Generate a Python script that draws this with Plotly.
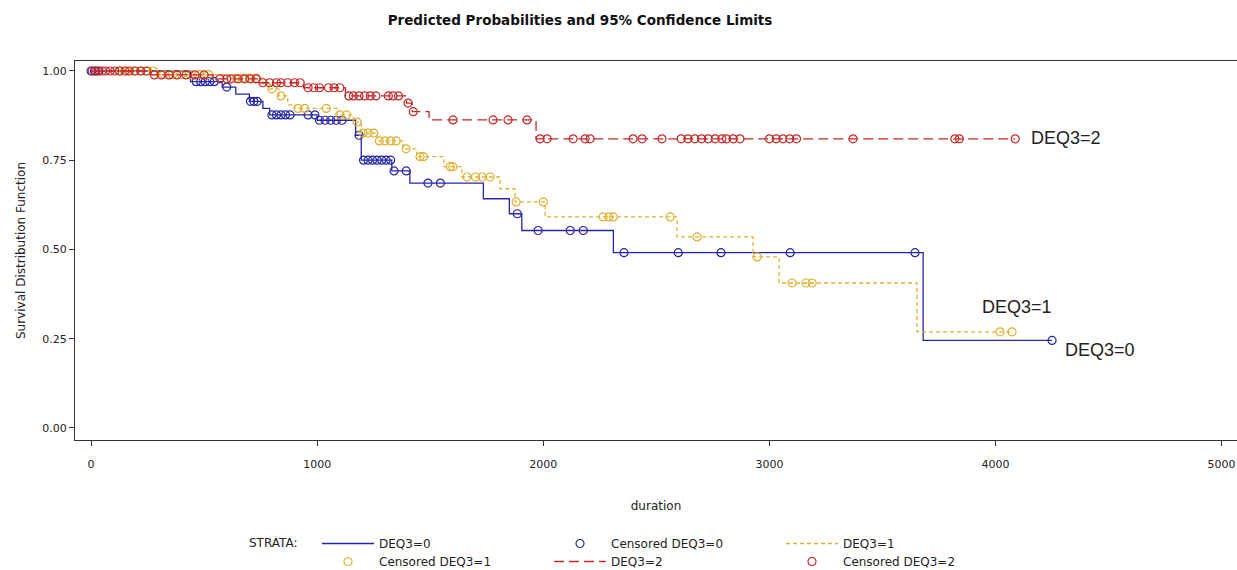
import numpy as np
import plotly.graph_objects as go

# ---------------- data ----------------
# DEQ3=0
t0_events = [440, 580, 640, 700, 760, 790, 1000, 1170, 1195, 1330, 1410, 1735, 1850, 1905, 2310, 3680]
s0_events = [0.970, 0.955, 0.935, 0.915, 0.895, 0.877, 0.862, 0.820, 0.750, 0.720, 0.686, 0.642, 0.600, 0.553, 0.491, 0.245]
t0_end = 4250
t0_cens = [0, 15, 30, 465, 485, 505, 525, 545, 600, 705, 720, 735, 800, 820, 840, 860, 880, 960, 990,
           1010, 1035, 1060, 1085, 1110, 1185, 1205, 1225, 1245, 1265, 1285, 1305, 1325, 1340, 1394,
           1490, 1545, 1885, 1977, 2119, 2177, 2357, 2597, 2786, 3092, 3644, 4250]

# DEQ3=1
t1_events = [290, 600, 760, 790, 830, 870, 900, 1090, 1160, 1195, 1265, 1380, 1440, 1560, 1640, 1809, 1875,
             2008, 2592, 2928, 3043, 3653]
s1_events = [0.990, 0.980, 0.965, 0.950, 0.930, 0.905, 0.895, 0.877, 0.857, 0.826, 0.804, 0.782, 0.760,
             0.732, 0.703, 0.670, 0.633, 0.591, 0.535, 0.479, 0.406, 0.269]
t1_end = 4073
t1_cens = [130, 160, 190, 220, 250, 275, 320, 360, 400, 440, 480, 520, 640, 670, 700, 730, 800, 840,
           915, 945, 1040, 1100, 1130, 1176, 1203, 1225, 1250, 1275, 1300, 1325, 1350, 1393, 1455, 1470,
           1588, 1600, 1663, 1700, 1730, 1765, 1880, 2000, 2265, 2290, 2310, 2561, 2680, 2946,
           3100, 3162, 3189, 4020, 4073]

# DEQ3=2
t2_events = [265, 540, 740, 940, 1125, 1395, 1420, 1495, 1968]
s2_events = [0.989, 0.978, 0.967, 0.953, 0.930, 0.910, 0.886, 0.863, 0.810]
t2_end = 4087
t2_cens = [5, 20, 35, 50, 65, 85, 105, 125, 150, 170, 195, 220, 245, 280, 310, 345, 380, 420, 460, 500,
           570, 600, 620, 650, 680, 705, 730, 760, 790, 820, 840, 870, 900, 925, 960, 985, 1010, 1050,
           1075, 1100, 1140, 1160, 1185, 1210, 1235, 1260, 1315, 1335, 1360, 1402, 1425, 1601, 1778,
           1844, 1928, 1986, 2017, 2132, 2185, 2207, 2397, 2437, 2525, 2610, 2640, 2670, 2700, 2730,
           2760, 2790, 2810, 2840, 2870, 3000, 3030, 3060, 3090, 3120, 3370, 3820, 3840, 4087]

groups = ["DEQ3=0", "DEQ3=1", "DEQ3=2"]
colors = ["#2626A6", "#E0B030", "#C42828"]
dashes = ["solid", "4px,3px", "10px,5px"]
x_ticks = [0, 1000, 2000, 3000, 4000, 5000]
y_ticks = [0.00, 0.25, 0.50, 0.75, 1.00]


def step_xy(ev_t, ev_s, end):
    x = [0] + list(ev_t) + [end]
    y = [1.0] + list(ev_s) + [ev_s[-1]]
    return x, y


def surv_at(ev_t, ev_s, t):
    ev_t = np.asarray(ev_t)
    idx = np.searchsorted(ev_t, t, side="right") - 1
    return 1.0 if idx < 0 else ev_s[idx]


fig = go.Figure()
data = [(t0_events, s0_events, t0_end, t0_cens),
        (t1_events, s1_events, t1_end, t1_cens),
        (t2_events, s2_events, t2_end, t2_cens)]
legends = [("legend", "legend"), ("legend", "legend2"), ("legend2", "legend2")]

for i, (ev_t, ev_s, end, cens) in enumerate(data):
    x, y = step_xy(ev_t, ev_s, end)
    fig.add_trace(go.Scatter(x=x, y=y, mode="lines", line_shape="hv",
                             line=dict(color=colors[i], width=1.3, dash=dashes[i]),
                             name=groups[i], legend=legends[i][0]))
    cy = [surv_at(ev_t, ev_s, t) for t in cens]
    fig.add_trace(go.Scatter(x=cens, y=cy, mode="markers",
                             marker=dict(symbol="circle-open", size=8, color=colors[i],
                                         line=dict(width=1.2, color=colors[i])),
                             name="Censored " + groups[i], legend=legends[i][1]))

# end labels
label_pos = [(4299, 0.218), (3932, 0.339), (4150, 0.812)]
for g, (lx, ly) in zip(groups, label_pos):
    fig.add_annotation(x=lx, y=ly, text=g, showarrow=False, xanchor="left", yanchor="middle",
                       font=dict(family="Liberation Sans, Arial", size=18, color="#222"))

fig.add_annotation(xref="paper", yref="paper", x=(247 - 75) / 1162, y=-(543 - 440) / 379,
                   text="STRATA:", showarrow=False, xanchor="left", yanchor="middle",
                   font=dict(family="DejaVu Sans", size=12, color="#222"))

axis_common = dict(showline=True, linecolor="#333", linewidth=1, mirror=True,
                   ticks="outside", ticklen=5, tickcolor="#333", showgrid=False, zeroline=False,
                   tickfont=dict(family="DejaVu Sans", size=11, color="#222"))

legend_common = dict(orientation="h", xanchor="left", yanchor="top", yref="container",
                     entrywidth=165, entrywidthmode="pixels", itemwidth=52,
                     font=dict(family="DejaVu Sans", size=12, color="#222"),
                     bgcolor="rgba(0,0,0,0)")

fig.update_layout(
    width=1237, height=570,
    margin=dict(l=75, r=0, t=61, b=130, autoexpand=False),
    plot_bgcolor="white", paper_bgcolor="white",
    title=dict(text="Predicted Probabilities and 95% Confidence Limits", x=580 / 1237, xanchor="center",
               y=1 - 20 / 570, yanchor="middle",
               font=dict(family="DejaVu Sans", size=13.5, color="#111", weight="bold")),
    xaxis=dict(range=[-71, 5068], tickvals=x_ticks, ticktext=[str(v) for v in x_ticks],
               ticklabelstandoff=9,
               title=dict(text="duration", font=dict(family="DejaVu Sans", size=12, color="#222"),
                          standoff=31), **axis_common),
    yaxis=dict(range=[-0.034, 1.028], tickvals=y_ticks, ticktext=[f"{v:.2f}" for v in y_ticks],
               title=dict(text="Survival Distribution Function",
                          font=dict(family="DejaVu Sans", size=12, color="#222"), standoff=14),
               **axis_common),
    legend=dict(x=(317 - 75) / 1162, y=1 - 529 / 570, **legend_common),
    legend2=dict(x=(317 - 75) / 1162, y=1 - 547 / 570, **legend_common),
    showlegend=True,
)

fig.write_html("out.html")
